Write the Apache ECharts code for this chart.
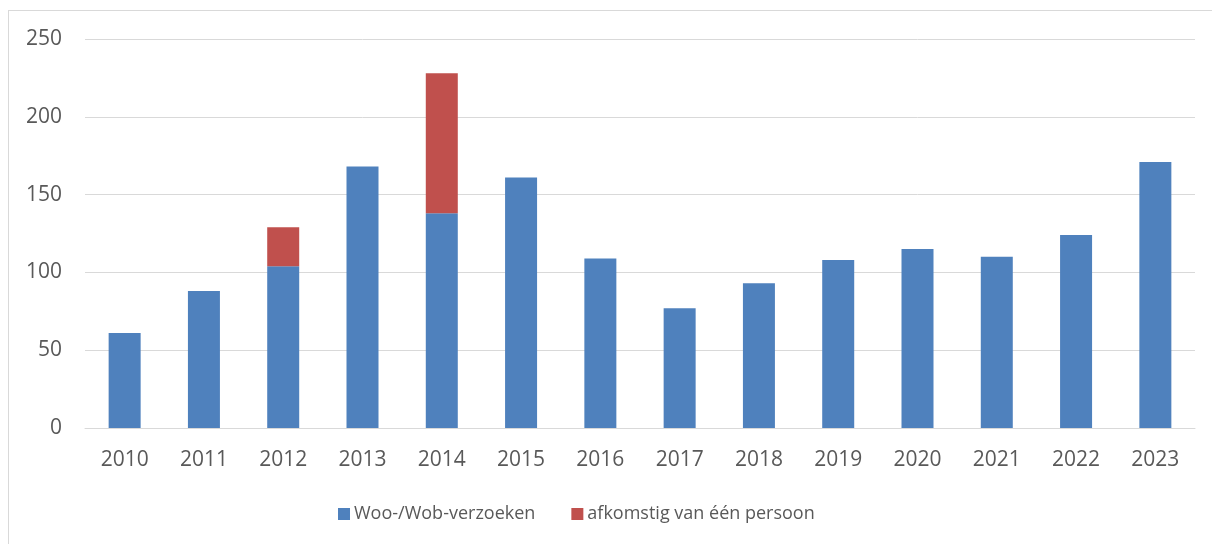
<!DOCTYPE html>
<html>
<head>
<meta charset="utf-8">
<script src="https://cdn.jsdelivr.net/npm/echarts@6/dist/echarts.min.js"></script>
<style>
  html, body { margin: 0; padding: 0; background: #fff; }
  .frame {
    position: absolute; left: 8px; top: 10px; width: 1220px; height: 560px;
    border-left: 1px solid #d9d9d9; border-top: 1px solid #d9d9d9;
  }
  #chart { position: absolute; left: 0; top: 0; width: 1212px; height: 544px; }
</style>
</head>
<body>
<div class="frame"></div>
<div id="chart"></div>
<script>
const years = ["2010", "2011", "2012", "2013", "2014", "2015", "2016", "2017", "2018", "2019", "2020", "2021", "2022", "2023"];
const verzoeken = [61, 88, 104, 168, 138, 161, 109, 77, 93, 108, 115, 110, 124, 171];
const eenPersoon = [null, null, 25, null, 90, null, null, null, null, null, null, null, null, null];

const myChart = echarts.init(document.getElementById("chart"));
const textColor = "#595959";
const font = "'Open Sans', 'Liberation Sans', sans-serif";

const option = {
  animation: false,
  textStyle: { fontFamily: font },
  grid: { left: 85, right: 17, top: 39, bottom: 116 },
  legend: {
    bottom: 16,
    left: 333,
    itemWidth: 12,
    itemHeight: 12,
    itemGap: 36,
    icon: "rect",
    textStyle: { color: textColor, fontSize: 18, fontFamily: font, padding: [0, 0, 0, -1] },
    data: ["Woo-/Wob-verzoeken", "afkomstig van één persoon"],
  },
  xAxis: {
    type: "category",
    data: years,
    axisLine: { lineStyle: { color: "#d9d9d9", width: 1 } },
    axisTick: { show: false },
    axisLabel: { color: textColor, fontSize: 21, margin: 22 },
  },
  yAxis: {
    type: "value",
    min: 0,
    max: 250,
    interval: 50,
    axisLine: { show: false },
    axisTick: { show: false },
    axisLabel: { color: textColor, fontSize: 21, margin: 23 },
    splitLine: { lineStyle: { color: "#d9d9d9", width: 1 } },
  },
  series: [
    {
      name: "Woo-/Wob-verzoeken",
      type: "bar",
      stack: "totaal",
      barWidth: 32,
      itemStyle: { color: "#4f81bd" },
      data: verzoeken,
    },
    {
      name: "afkomstig van één persoon",
      type: "bar",
      stack: "totaal",
      barWidth: 32,
      itemStyle: { color: "#c0504d" },
      data: eenPersoon,
    },
  ],
};
myChart.setOption(option);
</script>
</body>
</html>
